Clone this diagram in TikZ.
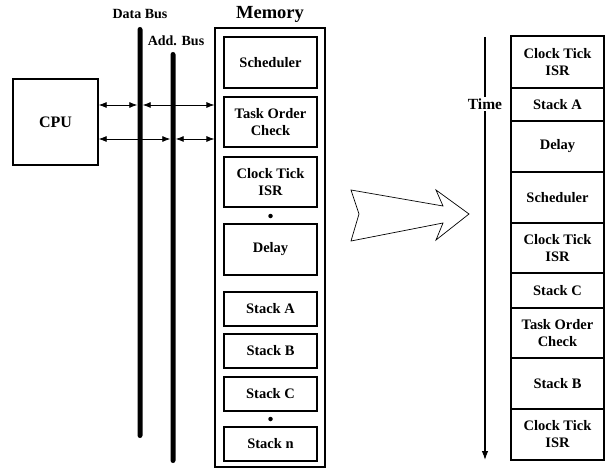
\documentclass[tikz,border=0pt]{standalone}
\usepackage{fontspec}
\setmainfont{Liberation Serif}
\usetikzlibrary{positioning, arrows.meta}

\begin{document}
\begin{tikzpicture}[
    x=1pt, y=-1pt,
    lbl/.style={font=\fontsize{14}{16}\selectfont\bfseries},
    block/.style={draw, line width=1.3pt, minimum width=93pt, align=center, inner sep=2pt, outer sep=0pt, font=\fontsize{14.5}{17}\selectfont\bfseries},
    slot/.style={draw, line width=1.4pt, minimum width=93pt, align=center, inner sep=2pt, outer sep=0pt, font=\fontsize{14.5}{17}\selectfont\bfseries},
    bus/.style={fill=black, inner sep=0pt, minimum width=5pt, rounded corners=2.5pt},
    dot/.style={circle, fill=black, inner sep=0pt, minimum size=4.5pt},
    link/.style={{Latex[length=8pt, width=6pt]}-{Latex[length=8pt, width=6pt]}, line width=0.8pt},
    node distance=9pt
  ]
  \useasboundingbox (0,0) rectangle (608,468);

  % CPU and the two buses
  \node[draw, line width=1.3pt, minimum width=85pt, minimum height=86pt, font=\fontsize{16}{18}\selectfont\bfseries] (cpu) at (55.5,122) {CPU};
  \node[bus, minimum height=411pt] (dbus) at (140,232.5) {};
  \node[bus, minimum height=411pt] (abus) at (173,257.5) {};
  \node[lbl] (dbuslbl) at (140,14) {Data Bus};
  \node[lbl] (abuslbl) at (176,41) {Add. Bus};

  % Memory with its contents
  \node[draw, line width=1.2pt, minimum width=110pt, minimum height=439pt] (mem) at (270,247.5) {};
  \node[font=\fontsize{18.5}{20}\selectfont\bfseries] (memlbl) at (270,14) {Memory};

  \node[block, minimum height=51pt] (sched) at (270.5,62.5) {Scheduler};
  \node[block, minimum height=50pt] (toc) [below=of sched] {Task Order\\Check};
  \node[block, minimum height=50pt] (isr) [below=10pt of toc] {Clock Tick\\ISR};
  \node[dot] (dot1) at (270.5,216) {};
  \node[block, minimum height=51pt] (delay) [below=17pt of isr] {Delay};
  \node[block, minimum height=34pt] (stA) [below=17pt of delay] {Stack A};
  \node[block, minimum height=34pt] (stB) [below=8pt of stA] {Stack B};
  \node[block, minimum height=34pt] (stC) [below=of stB] {Stack C};
  \node[dot] (dot2) at (270.5,419) {};
  \node[block, minimum height=34pt] (stN) [below=16pt of stC] {Stack n};

  % Bus connections
  \coordinate (hi) at ([yshift=17pt]cpu.east);
  \coordinate (lo) at ([yshift=-17pt]cpu.east);
  \draw[link] (hi) -- (hi -| dbus.west);
  \draw[link] (hi -| dbus.east) -- (hi -| mem.west);
  \draw[link] (lo) -- (lo -| abus.west);
  \draw[link] (lo -| abus.east) -- (lo -| mem.west);

  % Hollow arrow
  \draw[line width=0.7pt, line join=miter] (351,190) -- (443,206) -- (436,190) -- (469,214) -- (436,240) -- (443,223) -- (351,241) -- (359,214) -- cycle;

  % Time axis
  \coordinate (ttop) at (485,37);
  \coordinate (tbot) at (485,460);
  \draw[line width=1.1pt, -{Latex[length=9pt, width=6.5pt]}] (ttop) -- (tbot);
  \node[fill=white, inner sep=1.5pt, font=\fontsize{15.5}{17}\selectfont\bfseries] (timelbl) at (485,104) {Time};

  % Execution order
  \node[slot, minimum height=52pt] (t1) at (557.5,62) {Clock Tick\\ISR};
  \node[slot, minimum height=33pt] (t2) [below=0pt of t1] {Stack A};
  \node[slot, minimum height=51pt] (t3) [below=0pt of t2] {Delay};
  \node[slot, minimum height=51pt] (t4) [below=0pt of t3] {Scheduler};
  \node[slot, minimum height=50pt] (t5) [below=0pt of t4] {Clock Tick\\ISR};
  \node[slot, minimum height=35pt] (t6) [below=0pt of t5] {Stack C};
  \node[slot, minimum height=50pt] (t7) [below=0pt of t6] {Task Order\\Check};
  \node[slot, minimum height=51pt] (t8) [below=0pt of t7] {Stack B};
  \node[slot, minimum height=51pt] (t9) [below=0pt of t8] {Clock Tick\\ISR};

\end{tikzpicture}
\end{document}
